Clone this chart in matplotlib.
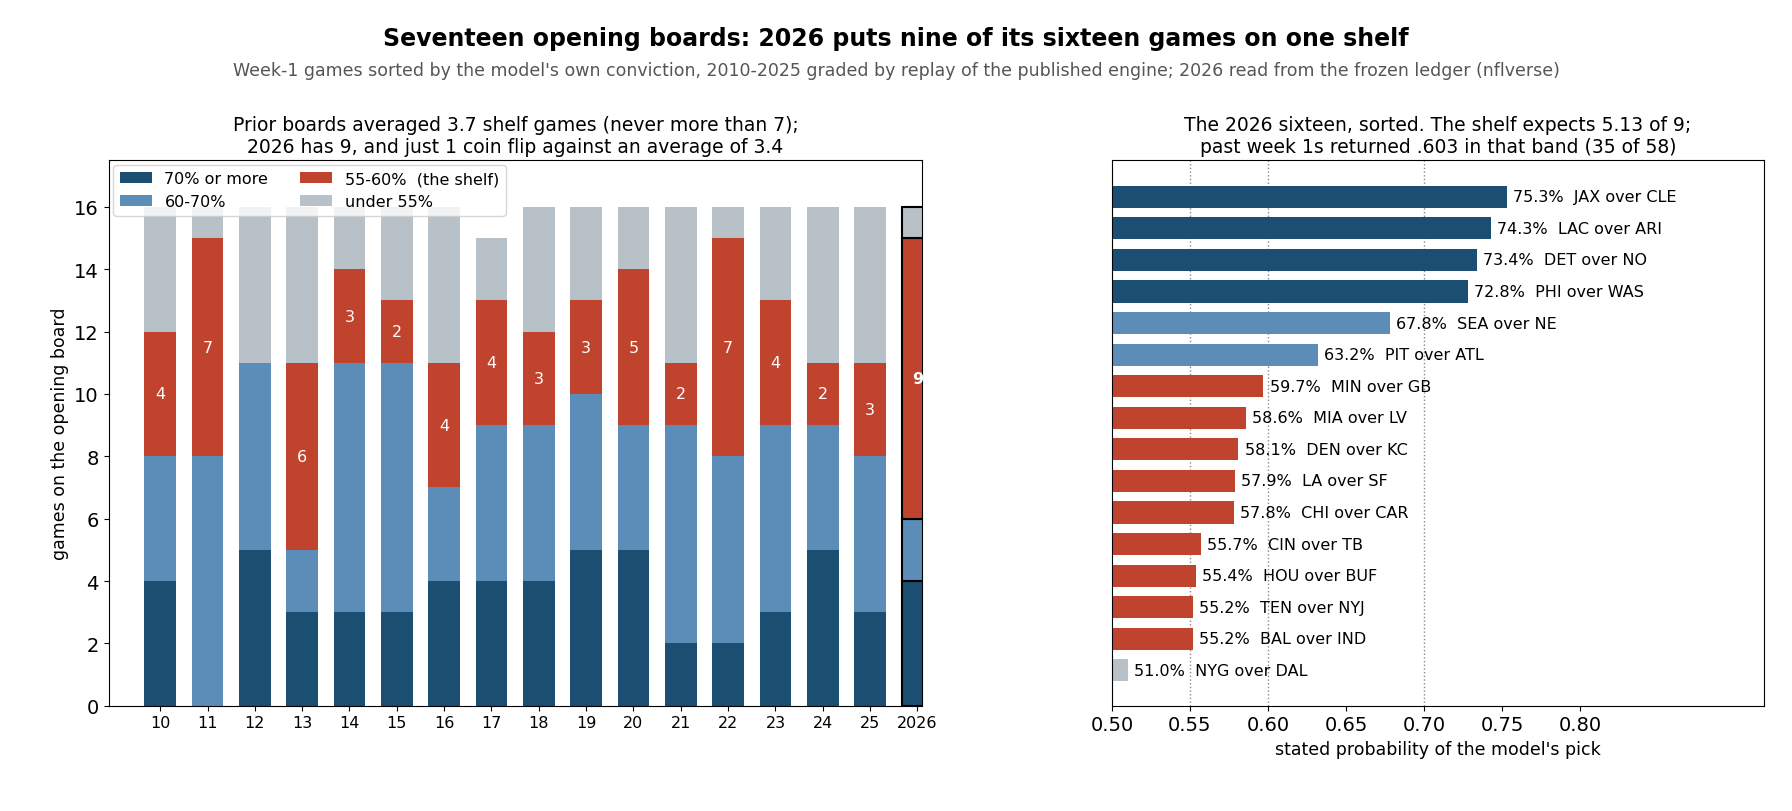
import matplotlib
matplotlib.use("Agg")
import matplotlib.pyplot as plt
import numpy as np

years = ["10","11","12","13","14","15","16","17","18","19","20","21","22","23","24","25","2026"]
strong = [4,0,5,3,3,3,4,4,4,5,5,2,2,3,5,3,4]
mid    = [4,8,6,2,8,8,3,5,5,5,4,7,6,6,4,5,2]
shelf  = [4,7,0,6,3,2,4,4,3,3,5,2,7,4,2,3,9]
under  = [4,1,5,5,2,3,5,2,4,3,2,5,1,3,5,5,1]

games = ["JAX over CLE","LAC over ARI","DET over NO","PHI over WAS","SEA over NE","PIT over ATL",
         "MIN over GB","MIA over LV","DEN over KC","LA over SF","CHI over CAR","CIN over TB",
         "HOU over BUF","TEN over NYJ","BAL over IND","NYG over DAL"]
probs = [0.753,0.743,0.734,0.728,0.678,0.632,0.597,0.586,0.581,0.579,0.578,0.557,0.554,0.552,0.552,0.510]

C_STRONG="#1b4f72"; C_MID="#5b8db8"; C_SHELF="#c0432d"; C_UNDER="#b8c0c8"

fig = plt.figure(figsize=(17.92,8.12), dpi=100)
fig.text(0.5,0.952,"Seventeen opening boards: 2026 puts nine of its sixteen games on one shelf",
         ha="center",va="center",fontsize=17,fontweight="bold")
fig.text(0.5,0.912,"Week-1 games sorted by the model's own conviction, 2010-2025 graded by replay of the published engine; 2026 read from the frozen ledger (nflverse)",
         ha="center",va="center",fontsize=12.5,color="#555555")

ax = fig.add_axes([0.0606,0.1296,0.454,0.672])
x = np.arange(len(years))
w = 0.67
s = np.array(strong); m = np.array(mid); sh = np.array(shelf); u = np.array(under)
last = len(years)-1
ec = ["none"]*last + ["black"]
lw = [0]*last + [1.5]
ax.bar(x,s,w,color=C_STRONG,label="70% or more",edgecolor=ec,linewidth=lw)
ax.bar(x,m,w,bottom=s,color=C_MID,label="60-70%",edgecolor=ec,linewidth=lw)
ax.bar(x,sh,w,bottom=s+m,color=C_SHELF,label="55-60%  (the shelf)",edgecolor=ec,linewidth=lw)
ax.bar(x,u,w,bottom=s+m+sh,color=C_UNDER,label="under 55%",edgecolor=ec,linewidth=lw)
for i in range(len(years)):
    if sh[i]>0:
        ax.text(x[i],s[i]+m[i]+sh[i]/2,str(sh[i]),ha="center",va="center",color="white",
                fontsize=11.5,fontweight="bold" if i==last else "normal")
ax.set_xticks(x); ax.set_xticklabels(years,fontsize=11.5)
ax.set_xlim(-1.09,16.1); ax.set_ylim(0,17.5)
ax.set_yticks(range(0,17,2)); ax.tick_params(axis="y",labelsize=14)
ax.set_ylabel("games on the opening board",fontsize=12.5)
ax.set_title("Prior boards averaged 3.7 shelf games (never more than 7);\n2026 has 9, and just 1 coin flip against an average of 3.4",fontsize=13.5)
ax.legend(loc="upper left",ncol=2,fontsize=11.5,handlelength=2,borderaxespad=0.3)

ax2 = fig.add_axes([0.6205,0.1296,0.364,0.672])
y = np.arange(len(games))
def col(p):
    if p>=0.70: return C_STRONG
    if p>=0.60: return C_MID
    if p>=0.55: return C_SHELF
    return C_UNDER
ax2.barh(y,np.array(probs)-0.5,left=0.5,height=0.7,color=[col(p) for p in probs])
for v in [0.55,0.60,0.70]:
    ax2.axvline(v,color="#888888",linestyle=":",linewidth=1,zorder=0)
for i,(p,g) in enumerate(zip(probs,games)):
    ax2.text(p+0.004,i,f"{p*100:.1f}%  {g}",va="center",fontsize=11.5)
ax2.set_xlim(0.5,0.918); ax2.set_ylim(16.12,-1.16)
ax2.set_yticks([])
ax2.set_xticks([0.5,0.55,0.6,0.65,0.7,0.75,0.8])
ax2.set_xticklabels(["0.50","0.55","0.60","0.65","0.70","0.75","0.80"],fontsize=14)
ax2.set_xlabel("stated probability of the model's pick",fontsize=12.5)
ax2.set_title("The 2026 sixteen, sorted. The shelf expects 5.13 of 9;\npast week 1s returned .603 in that band (35 of 58)",fontsize=13.5)

fig.savefig("out.png",dpi=100)
